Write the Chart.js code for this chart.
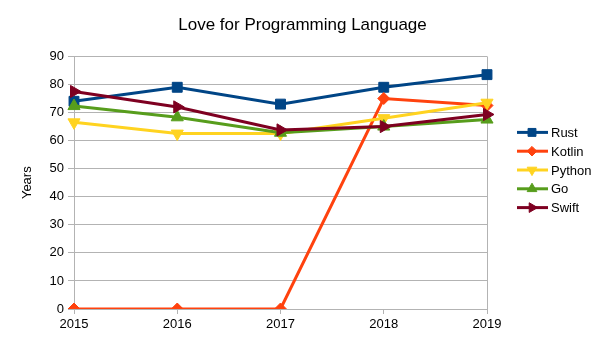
<!DOCTYPE html>
<html>
<head>
<meta charset="utf-8">
<script src="https://cdn.jsdelivr.net/npm/chart.js@4/dist/chart.umd.min.js"></script>
<style>
  body { margin: 0; background: #fff; }
  #wrap { width: 605px; height: 340px; }
</style>
</head>
<body>
<div id="wrap"><canvas id="myChart" width="605" height="340"></canvas></div>
<script>
const years = ['2015', '2016', '2017', '2018', '2019'];
const rust = [74, 79, 73, 79, 83.5];
const kotlin = [0, 0, 0, 75, 72.5];
const python = [66.5, 62.5, 62.5, 68, 73.5];
const go = [72.3, 68.3, 62.8, 65, 67.5];
const swift = [77.5, 72, 63.8, 65, 69.3];

const FONT = 'Liberation Sans';
const gridGrey = '#b3b3b3';

function series(label, data, color, style, rot, radius, order) {
    return {
        label: label,
        data: data,
        borderColor: color,
        backgroundColor: color,
        borderWidth: 3,
        pointStyle: style,
        pointRotation: rot,
        pointRadius: radius,
        pointHoverRadius: radius,
        pointBorderWidth: 1,
        tension: 0,
        order: order
    };
}

// legend on the right: line with the series marker on it
const sideLegend = {
    id: 'sideLegend',
    afterDraw(chart) {
        const ctx = chart.ctx;
        const x0 = chart.chartArea.right + 30;
        const step = 18.8;
        const n = chart.data.datasets.length;
        const yTop = chart.height / 2 - step * (n - 1) / 2;
        ctx.save();
        ctx.font = '13px "' + FONT + '"';
        ctx.textBaseline = 'middle';
        chart.data.datasets.forEach((ds, i) => {
            const y = yTop + i * step;
            ctx.strokeStyle = ds.borderColor;
            ctx.fillStyle = ds.borderColor;
            ctx.lineWidth = 3;
            ctx.beginPath();
            ctx.moveTo(x0, y);
            ctx.lineTo(x0 + 31, y);
            ctx.stroke();
            ctx.lineWidth = 1;
            Chart.helpers.drawPoint(ctx, {
                pointStyle: ds.pointStyle,
                rotation: ds.pointRotation,
                radius: ds.pointRadius * 0.8,
                borderWidth: 1
            }, x0 + 15, y);
            ctx.fillStyle = '#000';
            ctx.fillText(ds.label, x0 + 34, y + 1);
        });
        ctx.restore();
    }
};

const data = {
    labels: years,
    datasets: [
        series('Rust', rust, '#004586', 'rect', 0, 7, 5),
        series('Kotlin', kotlin, '#ff420e', 'rectRot', 0, 6, 4),
        series('Python', python, '#ffd320', 'triangle', 180, 7, 3),
        series('Go', go, '#579d1c', 'triangle', 0, 7, 2),
        series('Swift', swift, '#7e0021', 'triangle', 90, 7, 1)
    ]
};

const config = {
    type: 'line',
    data: data,
    plugins: [sideLegend],
    options: {
        responsive: false,
        animation: false,
        layout: { padding: 0 },
        plugins: {
            legend: { display: false },
            tooltip: { enabled: false },
            title: {
                display: true,
                text: 'Love for Programming Language',
                color: '#000',
                font: { family: FONT, size: 17, weight: 'normal' },
                padding: { top: 15, bottom: 21 }
            }
        },
        scales: {
            x: {
                offset: false,
                afterFit(scale) { scale.height = 31; },
                border: { color: gridGrey, width: 1 },
                grid: {
                    color: (c) => (c.index === 0 || c.index === years.length - 1) ? gridGrey : 'rgba(0,0,0,0)',
                    tickColor: gridGrey,
                    tickLength: 5
                },
                ticks: {
                    color: '#000',
                    padding: 3,
                    maxRotation: 0,
                    font: { family: FONT, size: 13 }
                }
            },
            y: {
                min: 0,
                max: 90,
                afterFit(scale) { scale.width = 74; },
                border: { color: gridGrey, width: 1 },
                grid: { color: gridGrey, tickColor: gridGrey, tickLength: 6 },
                ticks: {
                    stepSize: 10,
                    color: '#000',
                    padding: 4,
                    font: { family: FONT, size: 13 }
                },
                title: {
                    display: true,
                    text: 'Years',
                    color: '#000',
                    font: { family: FONT, size: 13 },
                    padding: { top: 20, bottom: 0 }
                }
            },
            // empty right axis, keeps room for the legend
            side: {
                position: 'right',
                min: 0,
                max: 90,
                afterFit(scale) { scale.width = 118; },
                border: { display: false },
                grid: { display: false },
                ticks: { display: false }
            }
        }
    }
};

const myChart = new Chart(document.getElementById('myChart'), config);
</script>
</body>
</html>
